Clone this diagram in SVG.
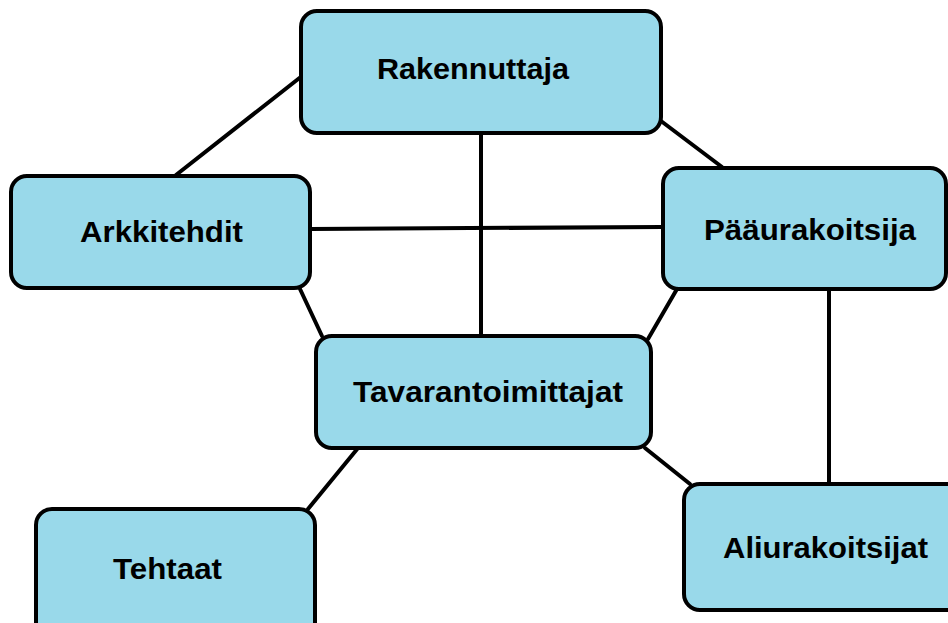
<svg xmlns="http://www.w3.org/2000/svg" width="948" height="623" viewBox="0 0 948 623">
<style>
.box{fill:#99d9ea;stroke:#000;stroke-width:4}
.lbl{font-family:"Liberation Sans",Arial,sans-serif;font-weight:bold;font-size:30px;fill:#000}
.ln{stroke:#000;stroke-width:4;fill:none;stroke-linecap:round}
</style>
<rect width="948" height="623" fill="#fff"/>
<g id="connectors">
<line class="ln" x1="302" y1="76" x2="176" y2="175"/>
<line class="ln" x1="481" y1="133" x2="481" y2="336"/>
<line class="ln" x1="661" y1="121" x2="722" y2="167"/>
<line class="ln" x1="310" y1="229" x2="662" y2="227"/>
<line class="ln" x1="300" y1="289" x2="322" y2="336"/>
<line class="ln" x1="677" y1="289" x2="648" y2="339"/>
<line class="ln" x1="829" y1="290" x2="829" y2="483"/>
<line class="ln" x1="645" y1="448" x2="690" y2="484"/>
<line class="ln" x1="358" y1="448" x2="308" y2="509"/>
</g>
<g id="rakennuttaja">
<rect class="box" x="301" y="11" width="360" height="122" rx="16"/>
<text class="lbl" x="377" y="79" textLength="192" lengthAdjust="spacingAndGlyphs">Rakennuttaja</text>
</g>
<g id="arkkitehdit">
<rect class="box" x="11" y="176" width="299" height="112" rx="16"/>
<text class="lbl" x="80" y="242" textLength="163" lengthAdjust="spacingAndGlyphs">Arkkitehdit</text>
</g>
<g id="paaurakoitsija">
<rect class="box" x="663" y="168" width="283" height="121" rx="16"/>
<text class="lbl" x="704" y="240" textLength="212" lengthAdjust="spacingAndGlyphs">Pääurakoitsija</text>
</g>
<g id="tavarantoimittajat">
<rect class="box" x="316" y="336" width="335" height="112" rx="16"/>
<text class="lbl" x="353" y="402" textLength="270" lengthAdjust="spacingAndGlyphs">Tavarantoimittajat</text>
</g>
<g id="tehtaat">
<rect class="box" x="36" y="509" width="279" height="130" rx="16"/>
<text class="lbl" x="113" y="579" textLength="109" lengthAdjust="spacingAndGlyphs">Tehtaat</text>
</g>
<g id="aliurakoitsijat">
<rect class="box" x="684" y="484" width="290" height="126" rx="16"/>
<text class="lbl" x="723" y="558" textLength="205" lengthAdjust="spacingAndGlyphs">Aliurakoitsijat</text>
</g>
</svg>
